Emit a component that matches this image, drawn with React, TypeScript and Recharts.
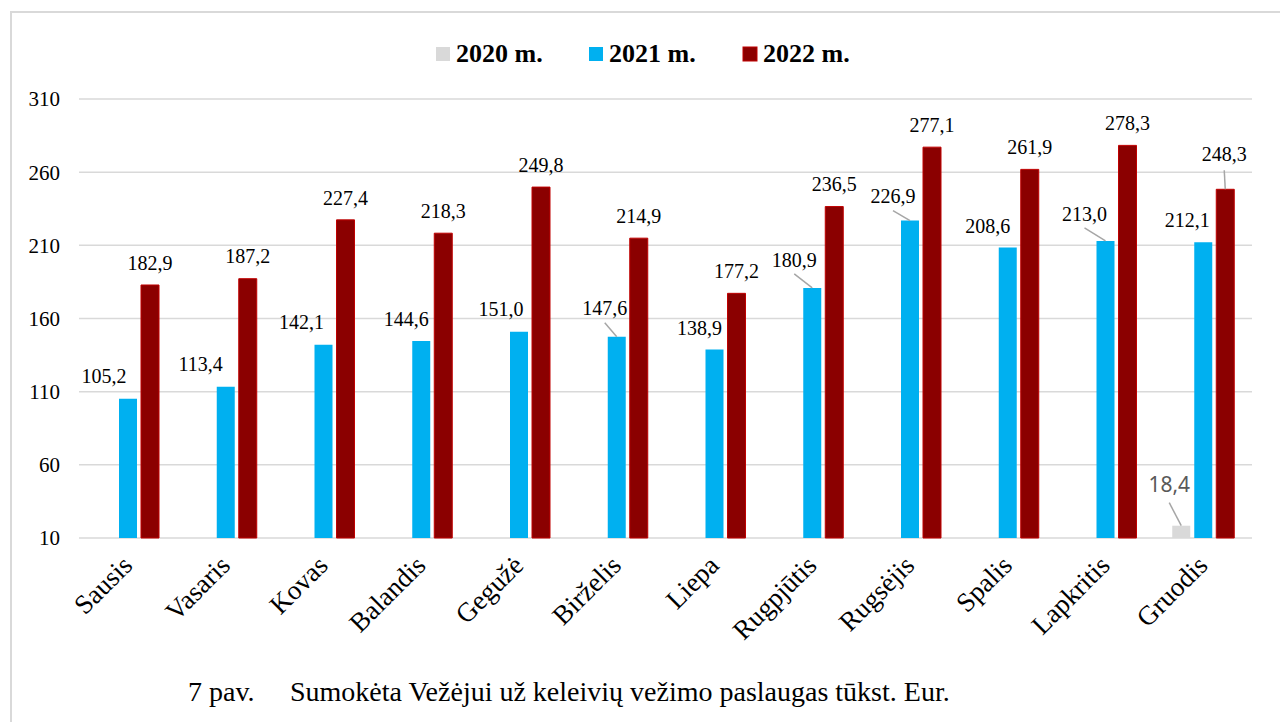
import React from 'react';
import { BarChart, Bar, XAxis, YAxis, CartesianGrid, LabelList } from 'recharts';

const months = ['Sausis', 'Vasaris', 'Kovas', 'Balandis', 'Gegužė', 'Birželis', 'Liepa', 'Rugpjūtis', 'Rugsėjis', 'Spalis', 'Lapkritis', 'Gruodis'];
const y2020: (number | null)[] = [null, null, null, null, null, null, null, null, null, null, null, 18.4];
const y2021 = [105.2, 113.4, 142.1, 144.6, 151.0, 147.6, 138.9, 180.9, 226.9, 208.6, 213.0, 212.1];
const y2022 = [182.9, 187.2, 227.4, 218.3, 249.8, 214.9, 177.2, 236.5, 277.1, 261.9, 278.3, 248.3];
const yTicks = [10, 60, 110, 160, 210, 260, 310];

const data = months.map((m, i) => ({ month: m, a: y2020[i], b: y2021[i], c: y2022[i] }));

const SERIF = '"Liberation Serif", "Times New Roman", serif';
const SANS = '"Noto Sans", "Liberation Sans", sans-serif';

type Nudge = [number, number, boolean]; // dx from bar centre, dy of text centre from bar top, leader line

// the 2020 series has a single value, so one nudge for it
const nudge2020 = (): Nudge => [-12, -41, true];
const nudge2021List: Nudge[] = [
  [-24, -22, false], [-25, -22, false], [-22, -22, false], [-15, -22, false],
  [-18, -22, false], [-12, -28, true], [-15, -21, false], [-18, -28, true],
  [-17, -24, true], [-20, -21, false], [-21, -27, true], [-16, -22, false],
];
const nudge2021 = (i: number): Nudge => nudge2021List[i] || [0, -22, false];
const nudge2022 = (i: number): Nudge => (i === 11 ? [-1, -35, true] : [0, -22, false]);

const fmt = (v: number) => v.toFixed(1).replace('.', ',');

function makeLabel(getNudge: (i: number) => Nudge, opts: { font: string; size: number; color: string; gap: number }) {
  return (props: any) => {
    const { value, index } = props;
    if (value == null) return null;
    const vb = props.viewBox || {};
    const x = Number(props.x ?? vb.x);
    const y = Number(props.y ?? vb.y);
    const w = Number(props.width ?? vb.width);
    const h = Number(props.height ?? vb.height);
    const top = Math.min(y, y + h);
    const cx = x + w / 2;
    const [dx, dy, leader] = getNudge(index);
    const lx = cx + dx;
    const ly = top + dy;
    return (
      <g>
        {leader && <line x1={lx} y1={ly + opts.gap} x2={cx} y2={top} stroke="#a6a6a6" strokeWidth={1.5} />}
        <text x={lx} y={ly + opts.size * 0.34} textAnchor="middle" style={{ fontFamily: opts.font, fontSize: opts.size }} fill={opts.color}>
          {fmt(Number(value))}
        </text>
      </g>
    );
  };
}

const MonthTick = (props: any) => {
  const { x, y, payload } = props;
  const tx = x + 6;
  const ty = y + 29;
  return (
    <text x={tx} y={ty} transform={`rotate(-45, ${tx}, ${ty})`} textAnchor="end" style={{ fontFamily: SERIF, fontSize: 27 }} fill="#000">
      {payload.value}
    </text>
  );
};

const legendItems = [
  { name: '2020 m.', color: '#d9d9d9', stroke: 'none', x: 436 },
  { name: '2021 m.', color: '#00b0f0', stroke: 'none', x: 589 },
  { name: '2022 m.', color: '#8b0000', stroke: '#c00000', x: 743 },
];

export default function App() {
  return (
    <div style={{ position: 'fixed', left: 0, top: 0, width: 1280, height: 722, background: '#fff', overflow: 'hidden' }}>
      <div style={{ position: 'absolute', left: 10, top: 11, width: 1300, height: 760, borderLeft: '2px solid #d9d9d9', borderTop: '2px solid #d9d9d9' }} />
      <div style={{ position: 'absolute', left: 0, top: 0 }}>
        <BarChart width={1280} height={722} data={data} margin={{ top: 99, right: 28, bottom: 84, left: 19 }} barGap={4} barSize={18}>
          <CartesianGrid vertical={false} stroke="#d9d9d9" strokeWidth={1.5} />
          <XAxis dataKey="month" axisLine={false} tickLine={false} tickSize={0} tickMargin={0} height={100} interval={0} tick={<MonthTick />} />
          <YAxis
            domain={[10, 310]}
            ticks={yTicks}
            axisLine={false}
            tickLine={false}
            tickMargin={13}
            width={60}
            tick={{ fill: '#000', style: { fontFamily: SERIF, fontSize: 21 } }}
          />
          <Bar dataKey="a" fill="#d9d9d9" isAnimationActive={false}>
            <LabelList dataKey="a" content={makeLabel(nudge2020, { font: SANS, size: 21, color: '#595959', gap: 18 })} />
          </Bar>
          <Bar dataKey="b" fill="#00b0f0" isAnimationActive={false}>
            <LabelList dataKey="b" content={makeLabel(nudge2021, { font: SERIF, size: 20, color: '#000', gap: 14 })} />
          </Bar>
          <Bar dataKey="c" fill="#8b0000" stroke="#c00000" strokeWidth={1} isAnimationActive={false}>
            <LabelList dataKey="c" content={makeLabel(nudge2022, { font: SERIF, size: 20, color: '#000', gap: 16 })} />
          </Bar>
        </BarChart>
      </div>
      <svg width={1280} height={722} style={{ position: 'absolute', left: 0, top: 0, pointerEvents: 'none' }}>
        {legendItems.map((it) => (
          <g key={it.name}>
            <rect x={it.x} y={47} width={14} height={14} fill={it.color} stroke={it.stroke} />
            <text x={it.x + 20} y={62} style={{ fontFamily: SERIF, fontWeight: 'bold', fontSize: 26 }} fill="#000">
              {it.name}
            </text>
          </g>
        ))}
        <text x={188} y={701} style={{ fontFamily: SERIF, fontSize: 28 }} fill="#000">7 pav.</text>
        <text x={290} y={701} style={{ fontFamily: SERIF, fontSize: 28 }} fill="#000">Sumokėta Vežėjui už keleivių vežimo paslaugas tūkst. Eur.</text>
      </svg>
    </div>
  );
}
